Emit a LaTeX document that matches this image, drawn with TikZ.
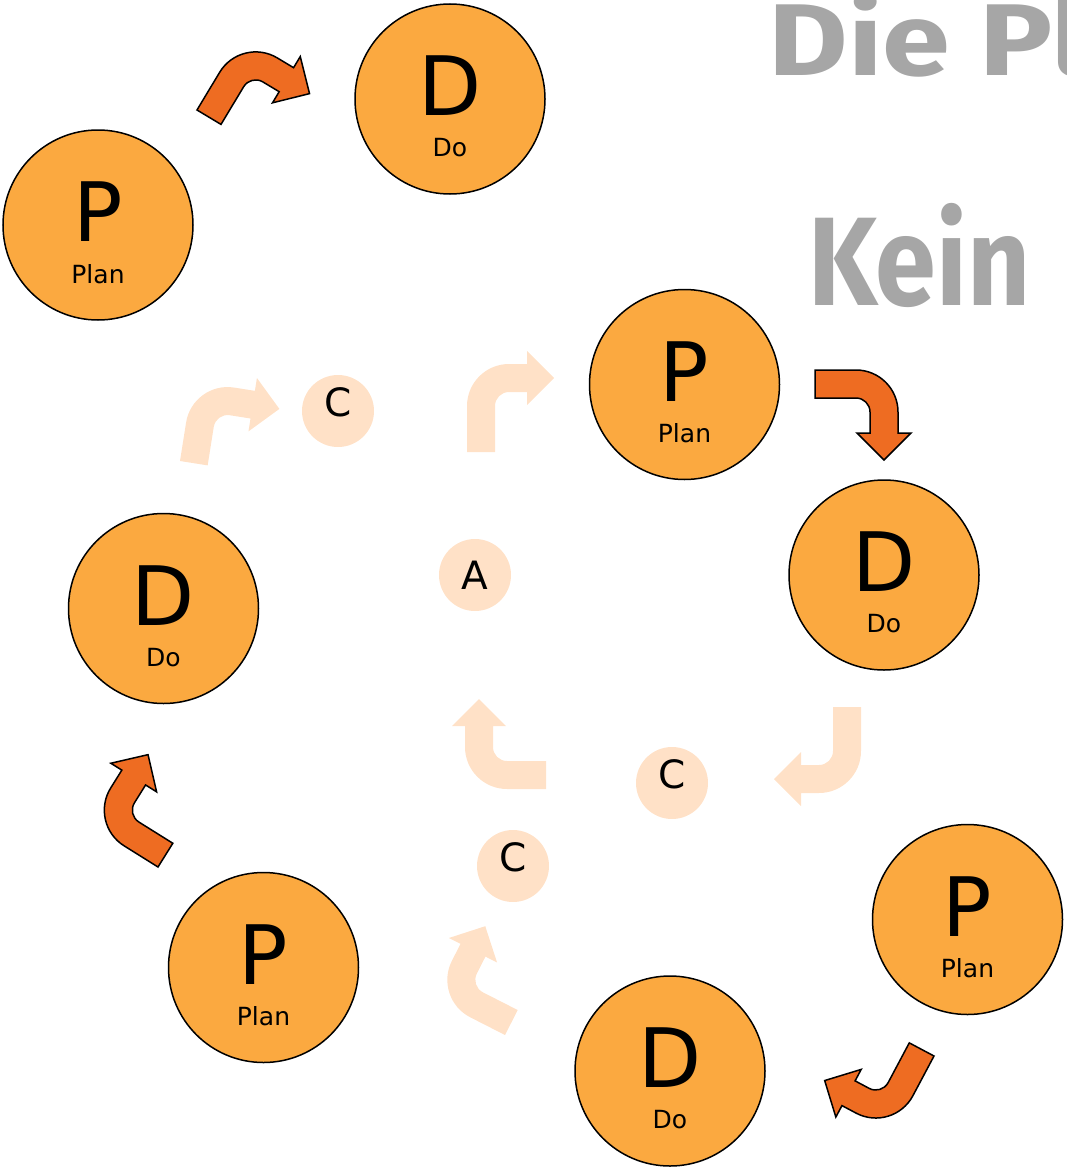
\documentclass[tikz,border=0pt]{standalone}
\usepackage{fontspec}
\setmainfont{DejaVu Sans}
\newfontfamily\handfont{Fira Sans}
\usepackage{tikz}

\definecolor{pdorange}{HTML}{FBA940}
\definecolor{pdarrow}{HTML}{EE6C22}
\definecolor{pdpeach}{HTML}{FFE1C7}
\definecolor{pdgray}{HTML}{A6A6A6}

% bent block arrow: style, x, y, angle, stem length, head position
\newcommand{\bentarrow}[6]{\path[#1, shift={(#2,-#3)}, rotate=#4] (0,0) --
  (0,#5) arc[start angle=180, end angle=90, radius=42] -- (#6,#5+42) --
  (#6,#5+55) -- (#6+27,#5+28) -- (#6,#5+1) -- (#6,#5+14) -- (42,#5+14)
  arc[start angle=90, end angle=180, radius=14] -- (28,0) -- cycle;}

\begin{document}
\begin{tikzpicture}[x=0.5pt, y=0.5pt, phase/.style={circle, draw, line
      width=0.75pt, fill=pdorange, minimum size=95pt, inner sep=0pt},
      check/.style={circle, fill=pdpeach, minimum size=36pt, inner sep=0pt},
      letter/.style={inner sep=0pt, font=\fontsize{41}{41}\selectfont},
      word/.style={inner sep=0pt, font=\fontsize{12.5}{12.5}\selectfont},
      cletter/.style={inner sep=0pt, font=\fontsize{19.5}{19.5}\selectfont},
      darkarrow/.style={draw, line width=0.75pt, fill=pdarrow},
      lightarrow/.style={fill=pdpeach}, title/.style={inner sep=0pt,
      anchor=base west, text=pdgray}]

    \useasboundingbox (0,0) rectangle (1066,-1167);
    \clip (0,0) rectangle (1066,-1167);

    % Heading
    \node[title, font=\handfont\bfseries\fontsize{51}{51}\selectfont] (head1)
    at (768,-75) {\scalebox{1.2}[1]{Die Pl}}; \node[title,
    font=\handfont\bfseries\fontsize{63}{63}\selectfont] (head2) at
    (808,-305) {\scalebox{0.87}[1]{Kein}};

    % Top left cycle
    \node[phase] (plan1) at (98,-225) {}; \node[letter] (plan1l) at
    (98,-212) {P}; \node[word] (plan1w) at (98,-274) {Plan};
    \node[phase] (do1) at (450,-99) {}; \node[letter] (do1l) at (450,-86)
    {D}; \node[word] (do1w) at (450,-148) {Do};
    \bentarrow{darkarrow}{197}{110}{-31}{44}{61}

    % Right cycle
    \node[phase] (plan2) at (684.5,-384.5) {}; \node[letter] (plan2l) at
    (684.5,-371.5) {P}; \node[word] (plan2w) at (684.5,-433.5) {Plan};
    \node[phase] (do2) at (884,-575) {}; \node[letter] (do2l) at
    (884,-562) {D}; \node[word] (do2w) at (884,-624) {Do};
    \bentarrow{darkarrow}{815}{370}{-90}{41}{63}

    % Bottom right cycle
    \node[phase] (plan3) at (967.5,-919.5) {}; \node[letter] (plan3l) at
    (967.5,-906.5) {P}; \node[word] (plan3w) at (967.5,-968.5) {Plan};
    \node[phase] (do3) at (670,-1071) {}; \node[letter] (do3l) at
    (670,-1058) {D}; \node[word] (do3w) at (670,-1120) {Do};
    \bentarrow{darkarrow}{934}{1056}{152}{45}{58}

    % Left cycle
    \node[phase] (plan4) at (263.5,-967.5) {}; \node[letter] (plan4l) at
    (263.5,-954.5) {P}; \node[word] (plan4w) at (263.5,-1016.5) {Plan};
    \node[phase] (do4) at (163.5,-608.5) {}; \node[letter] (do4l) at
    (163.5,-595.5) {D}; \node[word] (do4w) at (163.5,-657.5) {Do};
    \bentarrow{darkarrow}{158}{867}{58}{40}{63}

    % Check and act (faded)
    \node[check] (check1) at (338,-411) {}; \node[cletter] (check1l) at
    (338,-402) {C}; \node[check] (act) at (475,-575) {}; \node[cletter]
    (actl) at (475,-575) {A}; \node[check] (check2) at (672,-783) {};
    \node[cletter] (check2l) at (672,-774) {C}; \node[check] (check3) at
    (513,-866) {}; \node[cletter] (check3l) at (513,-857) {C};

    \bentarrow{lightarrow}{467}{452}{0}{46}{60}
    \bentarrow{lightarrow}{180}{461}{-9}{39}{63}
    \bentarrow{lightarrow}{861}{707}{180}{44}{60}
    \bentarrow{lightarrow}{546}{789}{90}{39}{63}
    \bentarrow{lightarrow}{505}{1035}{63}{39}{61}

  \end{tikzpicture}
\end{document}
